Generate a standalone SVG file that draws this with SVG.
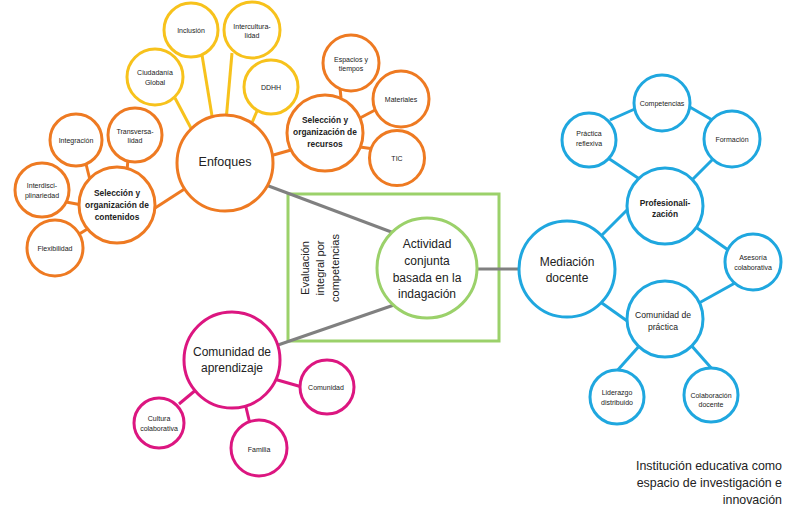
<svg xmlns="http://www.w3.org/2000/svg" width="800" height="514" viewBox="0 0 800 514">
<style>
  .o { fill: #fff; stroke: #EE7A22; stroke-width: 3; }
  .y { fill: #fff; stroke: #F7C21C; stroke-width: 3; }
  .b { fill: #fff; stroke: #1FA7DF; stroke-width: 3; }
  .p { fill: #fff; stroke: #DC1680; stroke-width: 3; }
  .g { fill: #fff; stroke: #9BD16A; stroke-width: 3; }
  .lo { stroke: #EE7A22; stroke-width: 3; }
  .ly { stroke: #F7C21C; stroke-width: 3; }
  .lb { stroke: #1FA7DF; stroke-width: 3; }
  .lp { stroke: #DC1680; stroke-width: 3; }
  .lg { stroke: #808080; stroke-width: 3; }
  text { font-family: "Liberation Sans", Arial, sans-serif; fill: #222; text-anchor: middle; dominant-baseline: central; }
  .s { font-size: 7px; }
  .m { font-size: 8.6px; }
  .mb { font-size: 8.4px; font-weight: bold; }
  .L { font-size: 12px; }
</style>

<g id="connectors" stroke-linecap="butt">
  <line class="ly" x1="175" y1="98" x2="193" y2="132"/>
  <line class="ly" x1="202" y1="55" x2="213" y2="122"/>
  <line class="ly" x1="232" y1="53" x2="226" y2="121"/>
  <line class="ly" x1="257" y1="111" x2="251" y2="125"/>
  <line class="lo" x1="186" y1="188" x2="152" y2="210"/>
  <line class="lo" x1="270" y1="156" x2="291" y2="150"/>
  <line class="lo" x1="86" y1="164" x2="90" y2="180"/>
  <line class="lo" x1="128" y1="159" x2="127" y2="171"/>
  <line class="lo" x1="66" y1="202" x2="82" y2="205"/>
  <line class="lo" x1="76" y1="236" x2="89" y2="228"/>
  <line class="lo" x1="340" y1="88" x2="341" y2="98"/>
  <line class="lo" x1="360" y1="118" x2="377" y2="109"/>
  <line class="lo" x1="360" y1="147" x2="374" y2="149"/>
  <line class="lb" x1="610" y1="120" x2="637" y2="108"/>
  <line class="lb" x1="688" y1="106" x2="714" y2="121"/>
  <line class="lb" x1="608" y1="158" x2="641" y2="180"/>
  <line class="lb" x1="714" y1="158" x2="692" y2="180"/>
  <line class="lb" x1="630" y1="207" x2="599" y2="238"/>
  <line class="lb" x1="697" y1="228" x2="731" y2="252"/>
  <line class="lb" x1="735" y1="283" x2="699" y2="303"/>
  <line class="lb" x1="599" y1="301" x2="630" y2="323"/>
  <line class="lb" x1="641" y1="344" x2="616" y2="372"/>
  <line class="lb" x1="690" y1="344" x2="713" y2="370"/>
  <line class="lp" x1="197" y1="389" x2="179" y2="404"/>
  <line class="lp" x1="245" y1="403" x2="250" y2="424"/>
  <line class="lp" x1="274" y1="379" x2="302" y2="387"/>
</g>

<rect id="evaluacion-box" x="288" y="194" width="211" height="147" fill="none" stroke="#9BD16A" stroke-width="3"/>

<g id="grey-connectors">
  <line class="lg" x1="266" y1="185" x2="394" y2="233"/>
  <line class="lg" x1="278" y1="345" x2="394" y2="305"/>
  <line class="lg" x1="474" y1="269" x2="521" y2="269"/>
</g>

<g id="evaluacion-label" transform="translate(0,0)">
  <text x="0" y="0" transform="translate(305,268) rotate(-90)" style="font-size:11px">Evaluación</text>
  <text x="0" y="0" transform="translate(320,268) rotate(-90)" style="font-size:11px">integral por</text>
  <text x="0" y="0" transform="translate(335,268) rotate(-90)" style="font-size:11px">competencias</text>
</g>

<g id="enfoques"><circle class="o" cx="225" cy="163" r="48"/><text class="L" x="225" y="162" style="font-size:12.5px">Enfoques</text></g>

<g id="contenidos"><circle class="o" cx="117" cy="205" r="38"/>
  <text class="mb" x="117" y="193">Selección y</text>
  <text class="mb" x="117" y="205">organización de</text>
  <text class="mb" x="117" y="216.5">contenidos</text></g>
<g id="integracion"><circle class="o" cx="76" cy="140" r="26"/><text class="s" x="76" y="140">Integración</text></g>
<g id="transversalidad"><circle class="o" cx="135" cy="135" r="27"/><text class="s" x="135" y="131">Transversa-</text><text class="s" x="135" y="140.5">lidad</text></g>
<g id="interdisciplinariedad"><circle class="o" cx="42" cy="190" r="27"/><text class="s" x="42" y="185">Interdisci-</text><text class="s" x="42" y="195">plinariedad</text></g>
<g id="flexibilidad"><circle class="o" cx="55" cy="248" r="28"/><text class="s" x="55" y="248">Flexibilidad</text></g>

<g id="ciudadania"><circle class="y" cx="155" cy="77" r="28"/><text class="s" x="155" y="72">Ciudadanía</text><text class="s" x="155" y="82">Global</text></g>
<g id="inclusion"><circle class="y" cx="191" cy="30" r="27"/><text class="s" x="191" y="30">Inclusión</text></g>
<g id="interculturalidad"><circle class="y" cx="252" cy="30" r="28"/><text class="s" x="252" y="26">Intercultura-</text><text class="s" x="252" y="35">lidad</text></g>
<g id="ddhh"><circle class="y" cx="271" cy="87" r="27"/><text class="s" x="271" y="87">DDHH</text></g>

<g id="recursos"><circle class="o" cx="325" cy="133" r="38"/>
  <text class="mb" x="325" y="120">Selección y</text>
  <text class="mb" x="325" y="132">organización de</text>
  <text class="mb" x="325" y="144">recursos</text></g>
<g id="espacios"><circle class="o" cx="351" cy="63" r="28"/><text class="s" x="351" y="59">Espacios y</text><text class="s" x="351" y="68">tiempos</text></g>
<g id="materiales"><circle class="o" cx="401" cy="99" r="28"/><text class="s" x="401" y="99">Materiales</text></g>
<g id="tic"><circle class="o" cx="397" cy="158" r="27.5"/><text class="s" x="397" y="158">TIC</text></g>

<g id="actividad"><circle class="g" cx="427" cy="268" r="50"/>
  <text class="L" x="427" y="244">Actividad</text>
  <text class="L" x="427" y="261">conjunta</text>
  <text class="L" x="427" y="278">basada en la</text>
  <text class="L" x="427" y="294">indagación</text></g>

<g id="comunidad-aprendizaje"><circle class="p" cx="232" cy="360" r="48"/>
  <text class="L" x="232" y="352">Comunidad de</text>
  <text class="L" x="232" y="368">aprendizaje</text></g>
<g id="comunidad"><circle class="p" cx="327" cy="387" r="27"/><text class="s" x="326" y="387">Comunidad</text></g>
<g id="cultura"><circle class="p" cx="159" cy="423" r="25"/><text class="s" x="159" y="418">Cultura</text><text class="s" x="159" y="428">colaborativa</text></g>
<g id="familia"><circle class="p" cx="259" cy="448" r="28"/><text class="s" x="259" y="449">Familia</text></g>

<g id="competencias"><circle class="b" cx="662" cy="103" r="28"/><text class="s" x="662" y="103">Competencias</text></g>
<g id="practica-reflexiva"><circle class="b" cx="589" cy="140" r="27"/><text class="s" x="589" y="133">Práctica</text><text class="s" x="589" y="143">reflexiva</text></g>
<g id="formacion"><circle class="b" cx="732" cy="139" r="28"/><text class="s" x="732" y="139">Formación</text></g>
<g id="profesionalizacion"><circle class="b" cx="665" cy="206" r="38"/><text class="mb" x="665" y="203">Profesionali-</text><text class="mb" x="665" y="214">zación</text></g>
<g id="mediacion"><circle class="b" cx="567" cy="269" r="48"/><text class="L" x="567" y="262">Mediación</text><text class="L" x="567" y="278">docente</text></g>
<g id="asesoria"><circle class="b" cx="753" cy="262" r="28"/><text class="s" x="753" y="257">Asesoría</text><text class="s" x="753" y="267">colaborativa</text></g>
<g id="comunidad-practica"><circle class="b" cx="665" cy="319" r="38"/><text class="m" x="663" y="315">Comunidad de</text><text class="m" x="663" y="327">práctica</text></g>
<g id="liderazgo"><circle class="b" cx="617" cy="397" r="27"/><text class="s" x="617" y="392">Liderazgo</text><text class="s" x="617" y="402">distribuido</text></g>
<g id="colaboracion"><circle class="b" cx="711" cy="395" r="27"/><text class="s" x="711" y="395">Colaboración</text><text class="s" x="711" y="404">docente</text></g>

<g id="title">
  <text x="782" y="470" style="font-size:12.4px; text-anchor:end; dominant-baseline:auto">Institución educativa como</text>
  <text x="782" y="487" style="font-size:12.4px; text-anchor:end; dominant-baseline:auto">espacio de investigación e</text>
  <text x="782" y="504" style="font-size:12.4px; text-anchor:end; dominant-baseline:auto">innovación</text>
</g>
</svg>
